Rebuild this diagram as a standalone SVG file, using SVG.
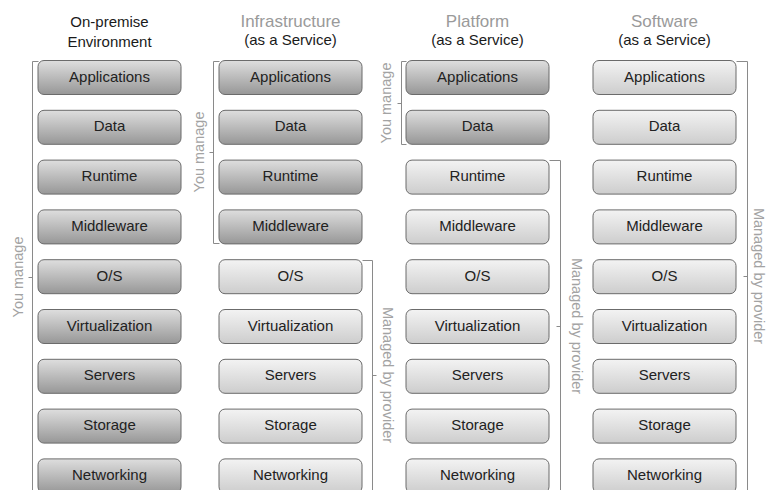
<svg xmlns="http://www.w3.org/2000/svg" width="768" height="490" viewBox="0 0 768 490">
  <defs>
    <linearGradient id="gDark" x1="0" y1="0" x2="0" y2="1">
      <stop offset="0" stop-color="#dedede"/>
      <stop offset="1" stop-color="#979797"/>
    </linearGradient>
    <linearGradient id="gLight" x1="0" y1="0" x2="0" y2="1">
      <stop offset="0" stop-color="#f3f3f3"/>
      <stop offset="1" stop-color="#cdcdcd"/>
    </linearGradient>
    <style>
      text { font-family: "Liberation Sans", Arial, sans-serif; }
      .box rect { stroke: #6b6b6b; stroke-width: 1; }
      .dark rect { fill: url(#gDark); }
      .light rect { fill: url(#gLight); }
      .box text { font-size: 15px; fill: #222; text-anchor: middle; }
      .head { font-size: 15px; fill: #1a1a1a; text-anchor: middle; }
      .title { font-size: 17px; fill: #9a9a9a; text-anchor: middle; }
      .brk { fill: none; stroke: #8a8a8a; stroke-width: 1; }
      .lbl { font-size: 14.5px; fill: #a3a3a3; text-anchor: middle; }
    </style>
  </defs>

  <!-- column headings -->
  <g id="headings">
    <text class="head" x="109.5" y="27">On-premise</text>
    <text class="head" x="109.5" y="47">Environment</text>
    <text class="title" x="290.5" y="27">Infrastructure</text>
    <text class="head" x="290.5" y="45">(as a Service)</text>
    <text class="title" x="477.5" y="27">Platform</text>
    <text class="head" x="477.5" y="45">(as a Service)</text>
    <text class="title" x="664.5" y="27">Software</text>
    <text class="head" x="664.5" y="45">(as a Service)</text>
  </g>

  <!-- On-premise column -->
  <g id="onprem">
    <g id="op-apps" class="box dark"><rect x="38" y="60.5" width="143" height="34" rx="6"/><text x="109.5" y="81.5">Applications</text></g>
    <g id="op-data" class="box dark"><rect x="38" y="110.3" width="143" height="34" rx="6"/><text x="109.5" y="131.3">Data</text></g>
    <g id="op-runtime" class="box dark"><rect x="38" y="160.1" width="143" height="34" rx="6"/><text x="109.5" y="181.1">Runtime</text></g>
    <g id="op-mw" class="box dark"><rect x="38" y="209.9" width="143" height="34" rx="6"/><text x="109.5" y="230.9">Middleware</text></g>
    <g id="op-os" class="box dark"><rect x="38" y="259.7" width="143" height="34" rx="6"/><text x="109.5" y="280.7">O/S</text></g>
    <g id="op-virt" class="box dark"><rect x="38" y="309.5" width="143" height="34" rx="6"/><text x="109.5" y="330.5">Virtualization</text></g>
    <g id="op-servers" class="box dark"><rect x="38" y="359.3" width="143" height="34" rx="6"/><text x="109.5" y="380.3">Servers</text></g>
    <g id="op-storage" class="box dark"><rect x="38" y="409.1" width="143" height="34" rx="6"/><text x="109.5" y="430.1">Storage</text></g>
    <g id="op-net" class="box dark"><rect x="38" y="458.9" width="143" height="34" rx="6"/><text x="109.5" y="479.9">Networking</text></g>
  </g>

  <!-- Infrastructure as a Service column -->
  <g id="iaas">
    <g id="ia-apps" class="box dark"><rect x="219" y="60.5" width="143" height="34" rx="6"/><text x="290.5" y="81.5">Applications</text></g>
    <g id="ia-data" class="box dark"><rect x="219" y="110.3" width="143" height="34" rx="6"/><text x="290.5" y="131.3">Data</text></g>
    <g id="ia-runtime" class="box dark"><rect x="219" y="160.1" width="143" height="34" rx="6"/><text x="290.5" y="181.1">Runtime</text></g>
    <g id="ia-mw" class="box dark"><rect x="219" y="209.9" width="143" height="34" rx="6"/><text x="290.5" y="230.9">Middleware</text></g>
    <g id="ia-os" class="box light"><rect x="219" y="259.7" width="143" height="34" rx="6"/><text x="290.5" y="280.7">O/S</text></g>
    <g id="ia-virt" class="box light"><rect x="219" y="309.5" width="143" height="34" rx="6"/><text x="290.5" y="330.5">Virtualization</text></g>
    <g id="ia-servers" class="box light"><rect x="219" y="359.3" width="143" height="34" rx="6"/><text x="290.5" y="380.3">Servers</text></g>
    <g id="ia-storage" class="box light"><rect x="219" y="409.1" width="143" height="34" rx="6"/><text x="290.5" y="430.1">Storage</text></g>
    <g id="ia-net" class="box light"><rect x="219" y="458.9" width="143" height="34" rx="6"/><text x="290.5" y="479.9">Networking</text></g>
  </g>

  <!-- Platform as a Service column -->
  <g id="paas">
    <g id="pa-apps" class="box dark"><rect x="406" y="60.5" width="143" height="34" rx="6"/><text x="477.5" y="81.5">Applications</text></g>
    <g id="pa-data" class="box dark"><rect x="406" y="110.3" width="143" height="34" rx="6"/><text x="477.5" y="131.3">Data</text></g>
    <g id="pa-runtime" class="box light"><rect x="406" y="160.1" width="143" height="34" rx="6"/><text x="477.5" y="181.1">Runtime</text></g>
    <g id="pa-mw" class="box light"><rect x="406" y="209.9" width="143" height="34" rx="6"/><text x="477.5" y="230.9">Middleware</text></g>
    <g id="pa-os" class="box light"><rect x="406" y="259.7" width="143" height="34" rx="6"/><text x="477.5" y="280.7">O/S</text></g>
    <g id="pa-virt" class="box light"><rect x="406" y="309.5" width="143" height="34" rx="6"/><text x="477.5" y="330.5">Virtualization</text></g>
    <g id="pa-servers" class="box light"><rect x="406" y="359.3" width="143" height="34" rx="6"/><text x="477.5" y="380.3">Servers</text></g>
    <g id="pa-storage" class="box light"><rect x="406" y="409.1" width="143" height="34" rx="6"/><text x="477.5" y="430.1">Storage</text></g>
    <g id="pa-net" class="box light"><rect x="406" y="458.9" width="143" height="34" rx="6"/><text x="477.5" y="479.9">Networking</text></g>
  </g>

  <!-- Software as a Service column -->
  <g id="saas">
    <g id="sa-apps" class="box light"><rect x="593" y="60.5" width="143" height="34" rx="6"/><text x="664.5" y="81.5">Applications</text></g>
    <g id="sa-data" class="box light"><rect x="593" y="110.3" width="143" height="34" rx="6"/><text x="664.5" y="131.3">Data</text></g>
    <g id="sa-runtime" class="box light"><rect x="593" y="160.1" width="143" height="34" rx="6"/><text x="664.5" y="181.1">Runtime</text></g>
    <g id="sa-mw" class="box light"><rect x="593" y="209.9" width="143" height="34" rx="6"/><text x="664.5" y="230.9">Middleware</text></g>
    <g id="sa-os" class="box light"><rect x="593" y="259.7" width="143" height="34" rx="6"/><text x="664.5" y="280.7">O/S</text></g>
    <g id="sa-virt" class="box light"><rect x="593" y="309.5" width="143" height="34" rx="6"/><text x="664.5" y="330.5">Virtualization</text></g>
    <g id="sa-servers" class="box light"><rect x="593" y="359.3" width="143" height="34" rx="6"/><text x="664.5" y="380.3">Servers</text></g>
    <g id="sa-storage" class="box light"><rect x="593" y="409.1" width="143" height="34" rx="6"/><text x="664.5" y="430.1">Storage</text></g>
    <g id="sa-net" class="box light"><rect x="593" y="458.9" width="143" height="34" rx="6"/><text x="664.5" y="479.9">Networking</text></g>
  </g>

  <!-- responsibility brackets -->
  <g id="brackets">
    <path class="brk" d="M38.5,61.5 H32.5 V490 M32.5,277.5 H28.5"/>
    <path class="brk" d="M219.5,61.5 H213.5 V243.5 H219.5 M213.5,152.5 H209.5"/>
    <path class="brk" d="M362.5,260.5 H372.5 V490 M372.5,375.5 H376.5"/>
    <path class="brk" d="M401.5,61.5 H406.5 M401.5,61.5 V144.5 H406.5 M401.5,103.5 H397.5"/>
    <path class="brk" d="M549.5,160.5 H560.5 V490 M560.5,326.5 H556.5"/>
    <path class="brk" d="M736.5,61.5 H747.5 V490 M747.5,276.5 H743.5"/>
  </g>

  <!-- bracket labels -->
  <g id="labels">
    <text class="lbl" transform="translate(22.5,277) rotate(-90)">You manage</text>
    <text class="lbl" transform="translate(204,152) rotate(-90)">You manage</text>
    <text class="lbl" transform="translate(391,103) rotate(-90)">You manage</text>
    <text class="lbl" transform="translate(383,375) rotate(90)">Managed by provider</text>
    <text class="lbl" transform="translate(572,326) rotate(90)">Managed by provider</text>
    <text class="lbl" transform="translate(754,276) rotate(90)">Managed by provider</text>
  </g>
</svg>
